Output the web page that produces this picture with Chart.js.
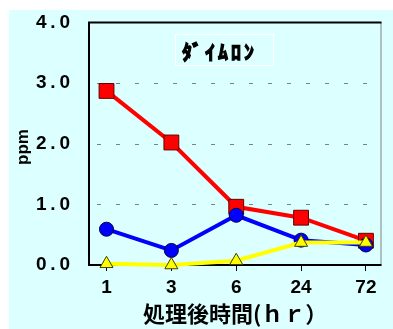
<!DOCTYPE html>
<html>
<head>
<meta charset="utf-8">
<script src="https://cdn.jsdelivr.net/npm/chart.js@4/dist/chart.umd.min.js"></script>
<style>
  html, body { margin: 0; padding: 0; background: #ffffff; }
  #wrap { width: 393px; height: 329px; }
</style>
</head>
<body>
<div id="wrap"><canvas id="grafico"></canvas></div>
<script>
// categorias do eixo x (horas após o tratamento)
const horas = ['1', '3', '6', '24', '72'];

// valores (ppm)
const serieVermelha = [2.87, 2.02, 0.96, 0.78, 0.40];
const serieAzul = [0.59, 0.24, 0.82, 0.41, 0.33];
const serieAmarela = [0.02, 0.00, 0.07, 0.37, 0.37];

// ticks do eixo y
const ticksY = [0, 1, 2, 3, 4];

const tituloCaixa = 'ﾀﾞｲﾑﾛﾝ';
const tituloX = '処理後時間(ｈｒ）';
const tituloY = 'ppm';

const familia = '"Liberation Sans", Arial, sans-serif';

function pontos(valores) {
  return valores.map((v, i) => ({ x: i, y: v }));
}

// fundo ciano, grade tracejada, bordas e textos extras
const decoracao = {
  id: 'decoracao',
  beforeDraw(chart) {
    const ctx = chart.ctx;
    ctx.save();
    ctx.fillStyle = '#dcffff';
    ctx.fillRect(9, 10, chart.width - 9, chart.height - 10);
    ctx.restore();
  },
  beforeDatasetsDraw(chart) {
    const ctx = chart.ctx;
    const a = chart.chartArea;
    const y = chart.scales.y;
    ctx.save();
    // linhas de grade tracejadas (1, 2 e 3)
    ctx.strokeStyle = '#808080';
    ctx.lineWidth = 1;
    ctx.setLineDash([4, 15]);
    ticksY.filter(t => t > 0 && t < 4).forEach(t => {
      const py = Math.round(y.getPixelForValue(t)) + 0.5;
      ctx.beginPath();
      ctx.moveTo(a.left + 8, py);
      ctx.lineTo(a.right, py);
      ctx.stroke();
    });
    ctx.setLineDash([]);
    // borda da direita cinza
    ctx.beginPath();
    ctx.moveTo(a.right - 0.5, a.top);
    ctx.lineTo(a.right - 0.5, a.bottom);
    ctx.stroke();
    // bordas pretas: cima, esquerda, baixo
    ctx.strokeStyle = '#000';
    ctx.lineWidth = 2;
    ctx.beginPath();
    ctx.moveTo(a.right, a.top);
    ctx.lineTo(a.left, a.top);
    ctx.lineTo(a.left, a.bottom);
    ctx.lineTo(a.right, a.bottom);
    ctx.stroke();
    ctx.restore();
  },
  afterDraw(chart) {
    const ctx = chart.ctx;
    ctx.save();
    // caixa do título
    ctx.strokeStyle = '#ffffff';
    ctx.lineWidth = 1;
    ctx.strokeRect(175.5, 34.5, 98, 31);
    ctx.fillStyle = '#000';
    ctx.strokeStyle = '#000';
    ctx.lineWidth = 1.2;
    ctx.font = 'bold 20px "Noto Sans CJK JP", sans-serif';
    ctx.textAlign = 'left';
    ctx.textBaseline = 'middle';
    ctx.letterSpacing = '3px';
    ctx.fillText(tituloCaixa, 182, 52);
    ctx.strokeText(tituloCaixa, 182, 52);
    ctx.letterSpacing = '0px';

    // título do eixo x
    ctx.font = 'bold 22px "Noto Sans CJK JP", sans-serif';
    ctx.textAlign = 'left';
    ctx.fillText(tituloX, 143, 314);

    // título do eixo y
    ctx.translate(23, 147);
    ctx.rotate(-Math.PI / 2);
    ctx.textAlign = 'center';
    ctx.font = 'bold 17px ' + familia;
    ctx.fillText(tituloY, 0, 0);
    ctx.restore();
  }
};

const config = {
  type: 'line',
  data: {
    datasets: [
      {
        data: pontos(serieVermelha),
        borderColor: '#ff0000',
        backgroundColor: '#ff0000',
        pointStyle: 'rect',
        pointRadius: 10.5,
        pointBorderColor: '#600000',
        pointBorderWidth: 1,
        borderWidth: 4,
        order: 3,
        clip: false
      },
      {
        data: pontos(serieAzul),
        borderColor: '#0000ff',
        backgroundColor: '#0000ff',
        pointStyle: 'circle',
        pointRadius: 7,
        pointBorderColor: '#000040',
        pointBorderWidth: 1,
        borderWidth: 4,
        order: 2,
        clip: false
      },
      {
        data: pontos(serieAmarela),
        borderColor: '#ffff00',
        backgroundColor: '#ffff00',
        pointStyle: 'triangle',
        pointRadius: 7.5,
        pointBorderColor: '#404000',
        pointBorderWidth: 1,
        borderWidth: 4,
        order: 1,
        clip: false
      }
    ]
  },
  options: {
    responsive: true,
    maintainAspectRatio: false,
    animation: false,
    events: [],
    layout: { padding: { left: 0, right: 1, top: 20, bottom: 0 } },
    plugins: {
      legend: { display: false },
      tooltip: { enabled: false }
    },
    scales: {
      x: {
        type: 'linear',
        min: -0.27,
        max: 4.24,
        afterBuildTicks(scale) {
          scale.ticks = horas.map((h, i) => ({ value: i }));
        },
        afterFit(scale) { scale.height = 64; },
        ticks: {
          color: '#000',
          font: { family: familia, size: 19, weight: 'bold' },
          padding: 5,
          maxRotation: 0,
          callback: (v) => horas[v]
        },
        grid: { drawOnChartArea: false, drawTicks: true, tickLength: 6, color: '#000', tickWidth: 1 },
        border: { display: false }
      },
      y: {
        min: 0,
        max: 4,
        afterBuildTicks(scale) {
          scale.ticks = ticksY.map(v => ({ value: v }));
        },
        afterFit(scale) { scale.width = 89; },
        ticks: {
          color: '#000',
          padding: 11,
          font: { family: familia, size: 19, weight: 'bold' },
          callback: (v) => v.toFixed(1).replace('.', '\u2009.\u2009')
        },
        grid: { display: false },
        border: { display: false }
      }
    }
  },
  plugins: [decoracao]
};

const grafico = new Chart(document.getElementById('grafico'), config);
</script>
</body>
</html>
